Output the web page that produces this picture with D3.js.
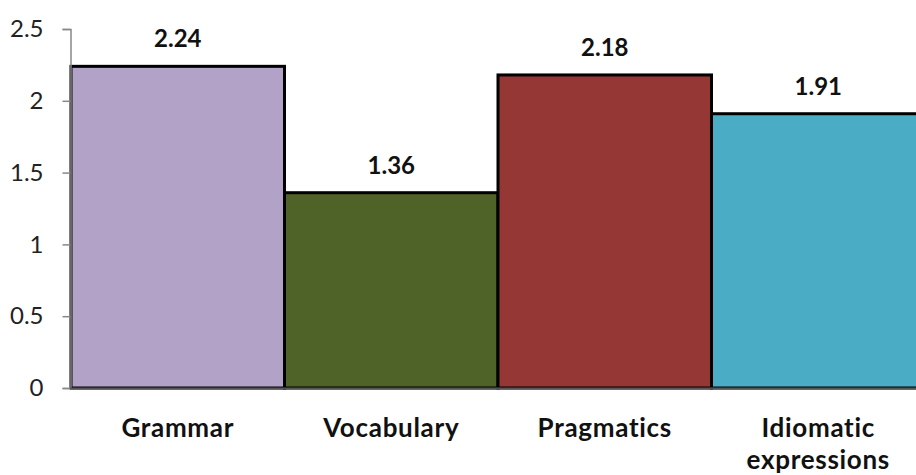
<!DOCTYPE html>
<html><head><meta charset="utf-8">
<script src="https://cdn.jsdelivr.net/npm/d3@7"></script>
<style>body{margin:0;background:#fff;overflow:hidden}</style>
</head><body>
<svg id="c" width="916" height="475"></svg>
<script>
const categories = ["Grammar", "Vocabulary", "Pragmatics", "Idiomatic expressions"];
const values = [2.24, 1.36, 2.18, 1.91];
const valueLabels = ["2.24", "1.36", "2.18", "1.91"];
const colors = ["#b3a2c8", "#4f6228", "#953735", "#4bacc6"];
const yTicks = [0, 0.5, 1, 1.5, 2, 2.5];
const yTickLabels = ["0", "0.5", "1", "1.5", "2", "2.5"];

const svg = d3.select("#c");
const font = "Lato, 'Open Sans', sans-serif";
const x = d3.scaleBand().domain(categories).range([71, 925]).padding(0);
const y = d3.scaleLinear().domain([0, 2.5]).range([388, 29]);

// bars
svg.append("g").selectAll("rect").data(categories).join("rect")
  .attr("x", d => x(d))
  .attr("y", (d, i) => y(values[i]))
  .attr("width", x.bandwidth())
  .attr("height", (d, i) => y(0) - y(values[i]))
  .attr("fill", (d, i) => colors[i])
  .attr("stroke", "#000")
  .attr("stroke-width", 3);

// y axis
const yAxis = d3.axisLeft(y).tickValues(yTicks).tickFormat((d, i) => yTickLabels[i]).tickSize(8).tickPadding(19);
const ga = svg.append("g").attr("transform", "translate(70.5,0)").call(yAxis);
ga.select(".domain").attr("stroke", "#888").attr("stroke-width", 1.5);
ga.selectAll(".tick line").attr("stroke", "#888").attr("stroke-width", 1.5);
ga.selectAll(".tick text").attr("font-family", font).attr("font-size", 24).attr("fill", "#222");

// baseline
svg.append("line").attr("x1", 70).attr("x2", 916).attr("y1", y(0) + 0.5).attr("y2", y(0) + 0.5)
  .attr("stroke", "#555").attr("stroke-width", 2);

// value labels
svg.append("g").selectAll("text").data(categories).join("text")
  .attr("x", d => x(d) + x.bandwidth() / 2)
  .attr("y", (d, i) => y(values[i]) - 19)
  .attr("text-anchor", "middle")
  .attr("font-family", font).attr("font-weight", "bold").attr("font-size", 24).attr("fill", "#111")
  .text((d, i) => valueLabels[i]);

// category labels
const cl = svg.append("g").selectAll("text").data(categories).join("text")
  .attr("x", d => x(d) + x.bandwidth() / 2)
  .attr("y", 437)
  .attr("text-anchor", "middle")
  .attr("font-family", font).attr("font-weight", "bold").attr("font-size", 26)
  .attr("letter-spacing", 0.7).attr("fill", "#111");
cl.each(function(d) {
  const words = d === "Idiomatic expressions" ? ["Idiomatic", "expressions"] : [d];
  const t = d3.select(this);
  words.forEach((w, j) => {
    t.append("tspan").attr("x", x(d) + x.bandwidth() / 2).attr("dy", j === 0 ? 0 : 32).text(w);
  });
});
</script>
</body></html>
